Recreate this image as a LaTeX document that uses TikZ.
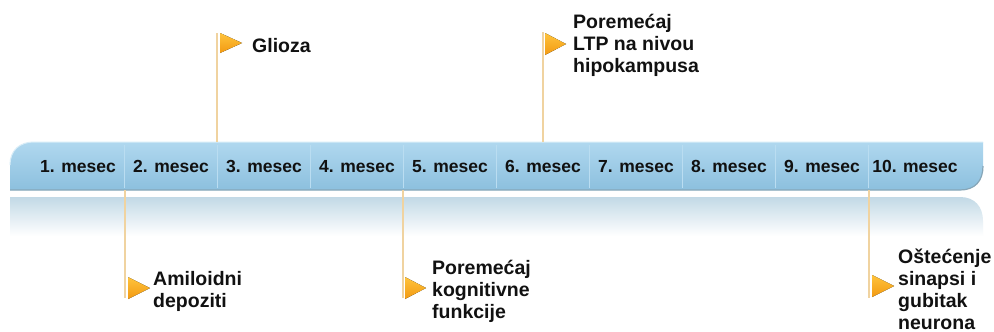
\documentclass[tikz,border=0pt]{standalone}
\usepackage{fontspec}
\setmainfont{Liberation Sans}
\definecolor{barTop}{HTML}{B0D8EF}
\definecolor{barBot}{HTML}{8CC0DE}
\definecolor{barEdge}{HTML}{86A6B8}
\definecolor{divc}{HTML}{BADDF1}
\definecolor{reflc}{HTML}{C2D9E6}
\definecolor{stem}{HTML}{F0D3A0}
\definecolor{flagA}{HTML}{FFC33C}
\definecolor{flagB}{HTML}{F29A12}
\definecolor{txt}{HTML}{111111}
\begin{document}
\begin{tikzpicture}[x=1pt,y=-1pt,
  month/.style={font=\fontsize{17.5}{20}\selectfont\bfseries, text=txt, anchor=base, inner sep=0pt},
  evlabel/.style={font=\fontsize{19.5}{22}\selectfont\bfseries, text=txt, anchor=base west, align=left, inner sep=0pt},
  stemline/.style={draw=stem, line width=1.4pt},
  flag/.style={top color=flagA, bottom color=flagB, draw=none},
  divider/.style={draw=divc, line width=0.8pt}]
\useasboundingbox (0,0) rectangle (994,332);
\fill[white] (0,0) rectangle (994,332);
% reflection
\shade[top color=reflc, bottom color=white] (10,197) -- (960,197) .. controls (975,197) and (983,207) .. (983,221) -- (983,236) -- (10,236) -- cycle;
% bar
\shade[top color=barTop, bottom color=barBot] (10,190) -- (10,165) .. controls (10,150) and (20,142) .. (34,142) -- (983,142) -- (983,166) .. controls (983,181) and (975,190) .. (960,190) -- cycle;
\draw[barEdge, line width=1.2pt] (10,190) -- (960,190) .. controls (975,190) and (983,181) .. (983,166);
\draw[white!50!barTop, line width=1pt] (10,165) .. controls (10,150) and (20,142) .. (34,142) -- (983,142);
% dividers
\foreach \k in {0,...,8} {
  \draw[divider] ({124.5+93*\k},145) -- ({124.5+93*\k},188);
}
% months
\foreach \i in {1,...,10} {
  \node[month] (m\i) at ({78+93*(\i-1)},172.5) {\i. mesec};
}
% stems
\coordinate (s1a) at (217,33);  \coordinate (s1b) at (217,142);
\coordinate (s2a) at (543,32);  \coordinate (s2b) at (543,142);
\coordinate (s3a) at (125,190); \coordinate (s3b) at (125,298);
\coordinate (s4a) at (403,190); \coordinate (s4b) at (403,298);
\coordinate (s5a) at (869,190); \coordinate (s5b) at (869,298);
\foreach \s in {1,...,5} { \draw[stemline] (s\s a) -- (s\s b); }
% flags
\fill[flag] (220,33) -- (242,43) -- (220,53) -- cycle;
\fill[flag] (545,33) -- (566,44) -- (545,55) -- cycle;
\fill[flag] (128,277) -- (150,288) -- (128,299) -- cycle;
\fill[flag] (405,277) -- (426,288) -- (405,299) -- cycle;
\fill[flag] (872,275) -- (894,286) -- (872,297) -- cycle;
% labels (base anchor = baseline of the last line)
\node[evlabel] (glioza) at (252,52) {Glioza};
\node[evlabel] (ltp) at (573,72) {Poremećaj\\LTP na nivou\\hipokampusa};
\node[evlabel] (amil) at (153,307) {Amiloidni\\depoziti};
\node[evlabel] (kogn) at (432,318) {Poremećaj\\kognitivne\\funkcije};
\node[evlabel] (oste) at (898,329) {Oštećenje\\sinapsi i\\gubitak\\neurona};
\end{tikzpicture}
\end{document}
